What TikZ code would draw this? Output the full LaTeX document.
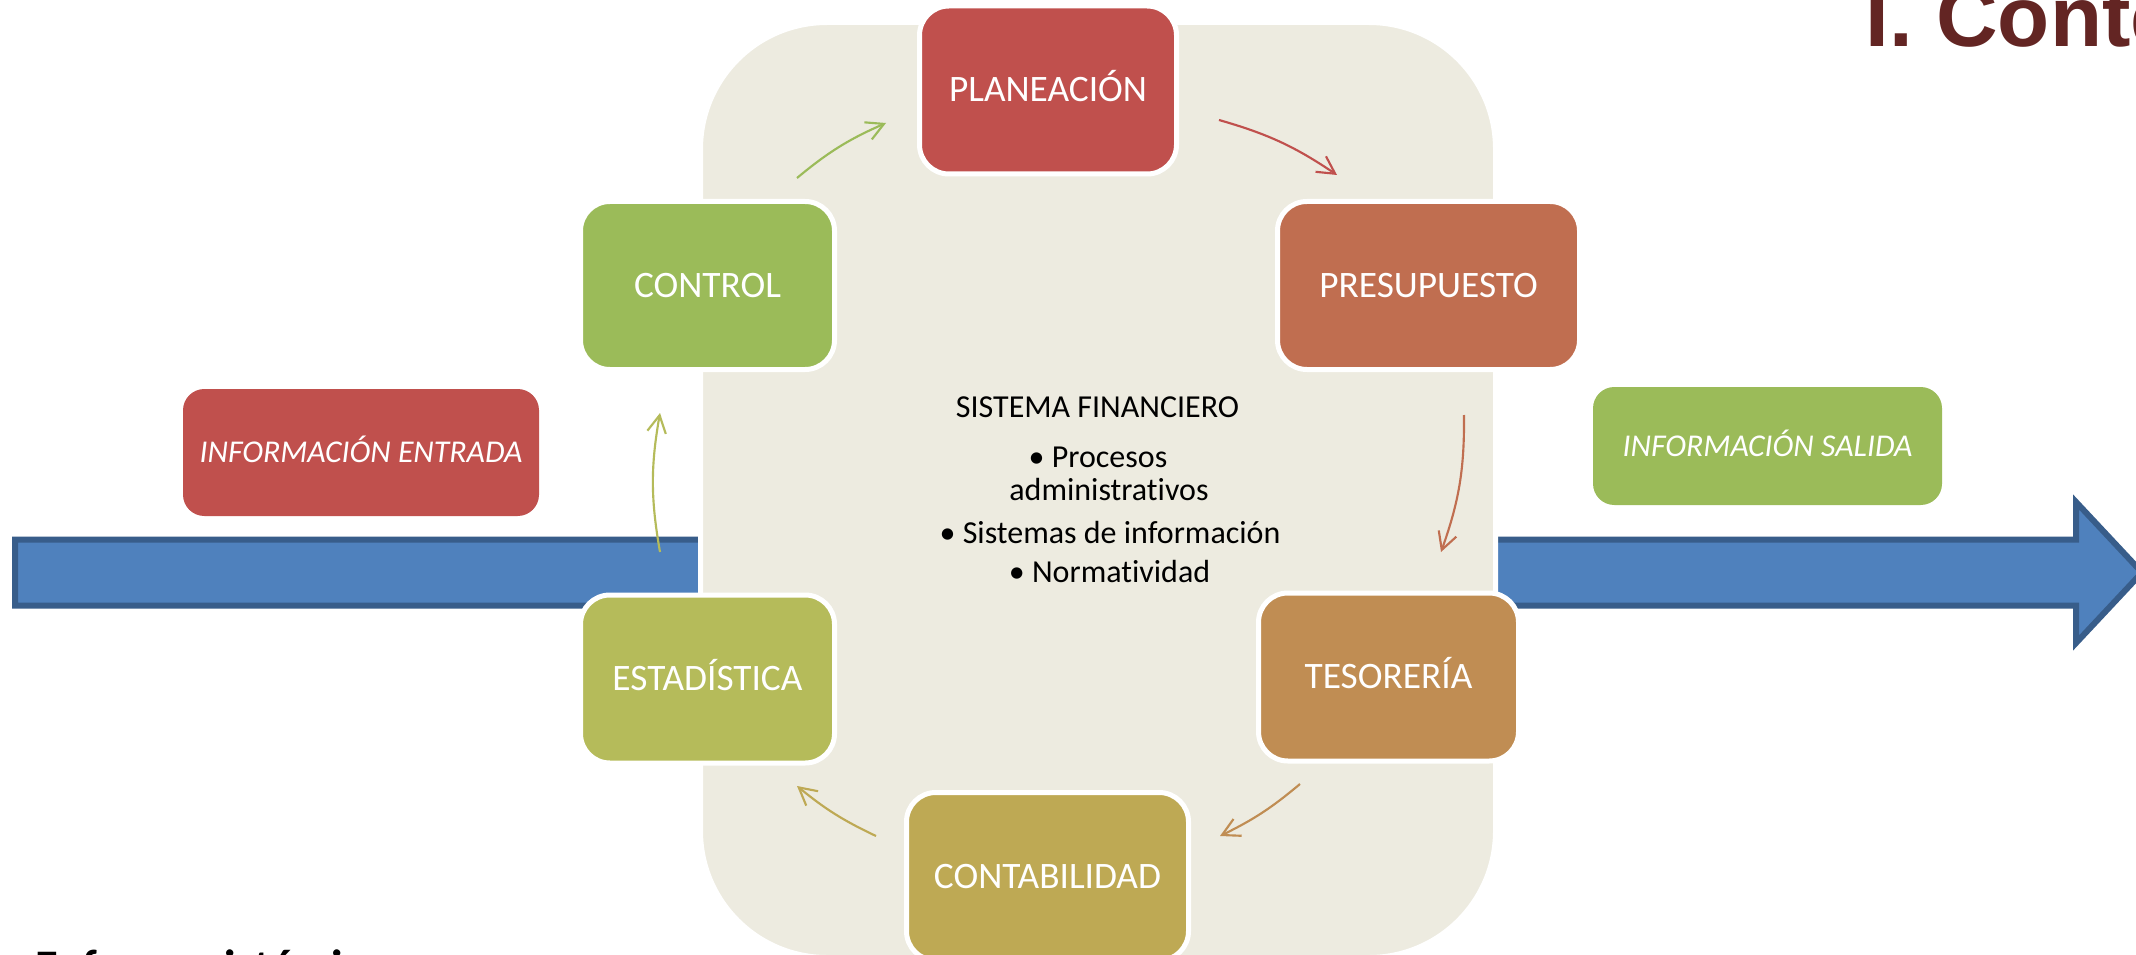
\documentclass[tikz,border=0pt]{standalone}
\usepackage{fontspec}
\setmainfont{Carlito}[Ligatures=NoCommon]
\newfontfamily\titlefont{Liberation Sans}
\usetikzlibrary{arrows.meta}
\definecolor{beigeBg}{HTML}{EDEBE0}
\definecolor{blueFill}{HTML}{4F81BD}
\definecolor{blueLine}{HTML}{385D8A}
\definecolor{cPlan}{HTML}{C0504D}
\definecolor{cPres}{HTML}{C06E50}
\definecolor{cTes}{HTML}{C08D53}
\definecolor{cCont}{HTML}{BEA954}
\definecolor{cEst}{HTML}{B5BB5A}
\definecolor{cCtrl}{HTML}{9BBB59}
\definecolor{titleRed}{HTML}{632523}
\begin{document}
\begin{tikzpicture}[x=0.75pt,y=-0.75pt,
  box/.style={draw=white, line width=3.75pt, rounded corners=22pt, minimum height=126pt,
    inner sep=0pt, text=white, font=\fontsize{28}{32}\selectfont, text height=17.7pt, text depth=0pt},
  info/.style={rounded corners=16pt, inner sep=0pt, text=white,
    font=\fontsize{23.8}{27}\selectfont\itshape, text height=15pt, text depth=0pt},
  cyc/.style={line width=1.6pt, -{Straight Barb[length=13pt,width=14pt]}},
  ctext/.style={font=\fontsize{24}{28}\selectfont, text=black, anchor=base, inner sep=0pt}]
\useasboundingbox (0,0) rectangle (2136,955);
\clip (0,0) rectangle (2136,955);
\fill[white] (0,0) rectangle (2136,955);
% big blue arrow (behind everything)
\draw[draw=blueLine, fill=blueFill, line width=4.5pt]
  (15,539.5) -- (2076,539.5) -- (2076,502) -- (2142,572.5) -- (2076,643) -- (2076,605.5) -- (15,605.5) -- cycle;
% beige system area
\draw[draw=white, fill=beigeBg, line width=3.75pt, rounded corners=95pt]
  (700.5,22.5) rectangle (1495.5,957.5);
% cycle boxes
\node[box, fill=cPlan, minimum width=192.75pt] (plan) at (1048,90) {PLANEACIÓN};
\node[box, fill=cPres, minimum width=226.5pt] (pres) at (1428.5,285.5) {PRESUPUESTO};
\node[box, fill=cTes, minimum width=195pt] (tes) at (1388.5,677) {TESORERÍA};
\node[box, fill=cCont, minimum width=211.5pt] (cont) at (1047.5,876.5) {CONTABILIDAD};
\node[box, fill=cEst, minimum width=190.5pt] (est) at (707.5,679) {ESTADÍSTICA};
\node[box, fill=cCtrl, minimum width=190.5pt] (ctrl) at (707.5,285.5) {CONTROL};
% input / output boxes
\node[info, fill=cPlan, minimum width=267pt, minimum height=95.25pt] (entrada) at (361,452.5) {INFORMACIÓN ENTRADA};
\node[info, fill=cCtrl, minimum width=261.75pt, minimum height=88.5pt] (salida) at (1767.5,446) {INFORMACIÓN SALIDA};
% cycle arrows
\coordinate (a1s) at (797,178);   \coordinate (a1e) at (886,123);
\coordinate (a2s) at (1219,120);  \coordinate (a2e) at (1337,175);
\coordinate (a3s) at (1464,415);  \coordinate (a3e) at (1441,552);
\coordinate (a4s) at (1300,784);  \coordinate (a4e) at (1220,836);
\coordinate (a5s) at (876,836);   \coordinate (a5e) at (797,786);
\coordinate (a6s) at (660,552);   \coordinate (a6e) at (660,413);
\draw[cyc, cCtrl] (a1s) to[bend left=8] (a1e);
\draw[cyc, cPlan] (a2s) to[bend left=9] (a2e);
\draw[cyc, cPres] (a3s) to[bend left=10] (a3e);
\draw[cyc, cTes] (a4s) to[bend left=7] (a4e);
\draw[cyc, cCont] (a5s) to[bend left=7] (a5e);
\draw[cyc, cEst] (a6s) to[bend left=10] (a6e);
% central text
\node[ctext] (sf) at (1097.5,417) {SISTEMA FINANCIERO};
\node[ctext] (l1) at (1098,467) {• Procesos};
\node[ctext] (l2) at (1109,500) {administrativos};
\node[ctext] (l3) at (1110,543) {• Sistemas de información};
\node[ctext] (l4) at (1109.5,582) {• Normatividad};
% title and footer text
\node[anchor=base west, inner sep=0pt, text=titleRed,
  font=\titlefont\fontsize{64}{70}\selectfont\bfseries] (title) at (1865,47) {I. Conte};
\node[anchor=base west, inner sep=0pt,
  font=\fontsize{35}{40}\selectfont\bfseries] (enf) at (35,982) {Enfoque sistémico};
\end{tikzpicture}
\end{document}
